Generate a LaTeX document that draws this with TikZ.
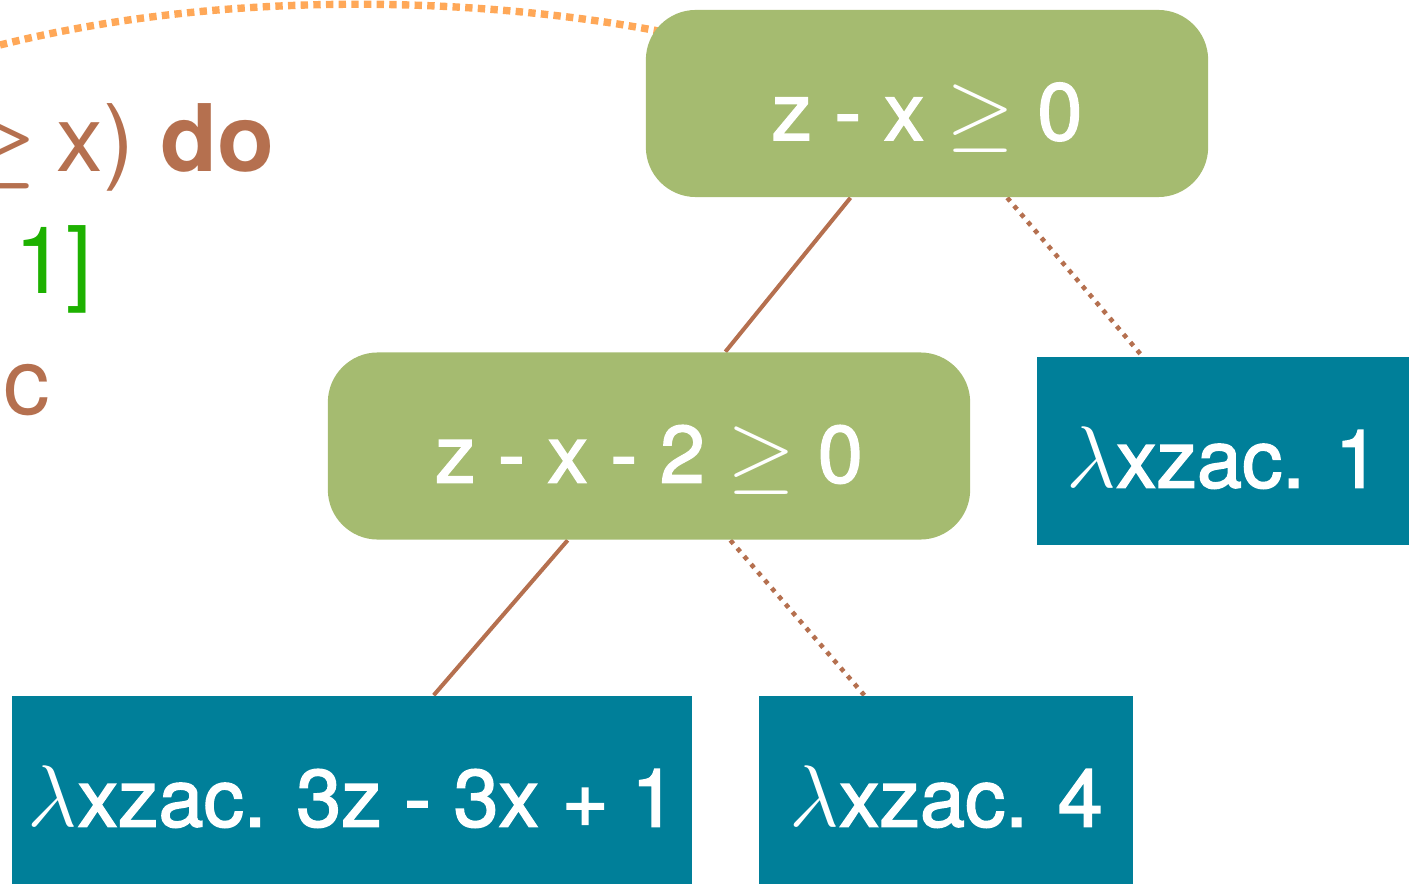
\documentclass[tikz,border=0pt]{standalone}
\usepackage{fontspec}
\setmainfont{TeX Gyre Heros}
\newfontfamily\medfont{TeX Gyre Heros}[FakeBold=1.9]
\usetikzlibrary{backgrounds}

\definecolor{condgreen}{HTML}{A5BB70}
\definecolor{leafteal}{HTML}{007F99}
\definecolor{edgebrown}{HTML}{B5704F}
\definecolor{looporange}{HTML}{FFA858}
\definecolor{codegreen}{HTML}{1DB100}

\begin{document}
\begin{tikzpicture}[x=0.01cm, y=-0.01cm,
  boxtext/.style={text=white, font=\medfont\fontsize{23}{27}\selectfont,
    text height=0.73cm, text depth=0pt, inner sep=0pt},
  cond/.style={boxtext, fill=condgreen, rounded corners=0.5cm, minimum height=1.87cm},
  leaf/.style={boxtext, fill=leafteal, minimum height=1.88cm},
  yesedge/.style={draw=edgebrown, line width=1.15pt},
  noedge/.style={draw=edgebrown, line width=1.3pt, dash pattern=on 1.3pt off 1.7pt},
  loopedge/.style={draw=looporange, line width=2.1pt, dash pattern=on 2.1pt off 1.5pt},
  code/.style={font=\fontsize{26.5}{30}\selectfont, inner sep=0pt, text=edgebrown}]
\useasboundingbox (0,0) rectangle (1409,894);
\clip (0,0) rectangle (1409,894);

% program text on the left
\node[code, anchor=base east] (loophead) at (275,172)
  {{\fontsize{32}{32}\selectfont\boldmath$\geq$}\kern0.2em x) \textbf{do}};
\node[code, anchor=base east, text=codegreen] (annot) at (93,293) {1]};
\node[code, anchor=base east] (body) at (51,414) {c};

% decision tree
\node[cond, minimum width=5.62cm] (top) at (927,103.5) {z - x $\geq$ 0};
\node[cond, minimum width=6.42cm] (mid) at (649,446) {z - x - 2 $\geq$ 0};
\node[leaf, minimum width=3.72cm] (leafa) at (1223,451) {$\lambda$xzac. 1};
\node[leaf, minimum width=6.80cm] (leafb) at (352,790) {$\lambda$xzac. 3z - 3x + 1};
\node[leaf, minimum width=3.74cm] (leafc) at (946,790) {$\lambda$xzac. 4};

\begin{scope}[on background layer]
  \coordinate (loopfrom) at (0,45);
  \draw[loopedge] (loopfrom) .. controls (220,-10) and (480,-5) .. ([shift={(30,25)}]top.north west);
  \draw[yesedge] (top) -- (mid);
  \draw[noedge] (top) -- (leafa);
  \draw[yesedge] (mid) -- (leafb);
  \draw[noedge] (mid) -- (leafc);
\end{scope}
\end{tikzpicture}
\end{document}
